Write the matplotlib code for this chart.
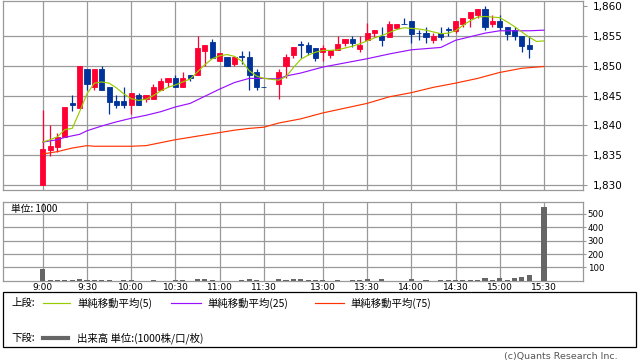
import matplotlib
matplotlib.use("Agg")
import matplotlib.pyplot as plt
from matplotlib.lines import Line2D
from matplotlib.patches import Rectangle


def slots(start, end):
    """5-minute time labels from start to end, both included."""
    h0, m0 = map(int, start.split(":"))
    h1, m1 = map(int, end.split(":"))
    return [f"{t // 60}:{t % 60:02d}" for t in range(h0 * 60 + m0, h1 * 60 + m1 + 1, 5)]


# candles: morning 9:00-11:30, afternoon 12:30-15:20
candle_times = slots("9:00", "11:30") + slots("12:30", "15:20")
opens = [1830.0, 1835.9, 1836.4, 1838.0, 1843.7, 1843.0, 1849.5, 1846.4, 1849.5, 1846.4,
         1844.1, 1844.1, 1843.5, 1845.1, 1844.5, 1844.5, 1845.9, 1847.3, 1848.0, 1846.5,
         1848.5, 1848.5, 1852.5, 1854.0, 1850.9, 1851.5, 1850.4, 1851.6, 1851.5, 1849.0,
         1846.4,
         1846.9, 1849.9, 1851.8, 1853.6, 1853.5, 1853.0, 1852.4, 1851.8, 1852.6, 1853.9,
         1854.5, 1852.9, 1854.4, 1855.5, 1855.0, 1854.9, 1856.4, 1857.1, 1857.6, 1855.6,
         1855.5, 1854.4, 1855.5, 1856.2, 1855.9, 1857.1, 1858.1, 1858.6, 1859.6, 1857.1,
         1857.6, 1856.6, 1856.1, 1855.0, 1853.5]
highs = [1842.6, 1840.1, 1838.7, 1843.1, 1845.1, 1850.0, 1849.5, 1849.5, 1850.0, 1846.4,
         1845.1, 1846.4, 1845.5, 1845.4, 1845.1, 1847.0, 1848.0, 1848.0, 1848.5, 1849.0,
         1848.5, 1855.1, 1853.5, 1854.5, 1852.1, 1851.5, 1851.5, 1852.5, 1852.5, 1849.5,
         1846.4,
         1849.5, 1852.0, 1853.1, 1854.1, 1854.0, 1853.0, 1853.5, 1852.6, 1855.0, 1854.5,
         1855.0, 1855.0, 1857.2, 1856.1, 1856.6, 1857.6, 1857.1, 1858.1, 1857.6, 1856.0,
         1856.6, 1855.5, 1856.6, 1856.6, 1857.6, 1858.1, 1859.1, 1859.6, 1860.1, 1858.6,
         1858.6, 1856.6, 1856.6, 1855.0, 1855.0]
lows = [1830.0, 1834.9, 1835.5, 1838.0, 1842.5, 1843.0, 1845.9, 1845.9, 1845.9, 1842.0,
        1843.0, 1843.0, 1842.0, 1843.5, 1844.0, 1844.5, 1845.9, 1846.4, 1846.5, 1846.5,
        1847.5, 1848.5, 1849.9, 1851.4, 1850.9, 1849.9, 1849.9, 1850.4, 1845.9, 1845.9,
        1846.4,
        1844.5, 1847.9, 1851.4, 1851.3, 1851.9, 1850.9, 1850.9, 1851.4, 1852.6, 1853.4,
        1853.2, 1852.4, 1854.4, 1854.9, 1853.4, 1854.9, 1856.4, 1857.0, 1853.9, 1854.4,
        1853.9, 1853.9, 1854.4, 1855.0, 1855.5, 1856.6, 1856.6, 1858.1, 1856.1, 1856.6,
        1856.1, 1854.4, 1854.4, 1852.4, 1851.4]
closes = [1836.1, 1836.6, 1838.1, 1843.1, 1843.5, 1850.0, 1846.9, 1849.5, 1845.9, 1844.0,
          1843.5, 1843.5, 1845.5, 1843.5, 1845.1, 1846.4, 1847.5, 1848.0, 1846.5, 1848.0,
          1847.9, 1853.0, 1853.5, 1851.4, 1852.1, 1849.9, 1851.5, 1851.5, 1848.4, 1846.4,
          1846.4,
          1849.0, 1851.5, 1853.1, 1853.5, 1852.4, 1851.4, 1853.0, 1852.6, 1853.6, 1854.5,
          1853.9, 1853.5, 1855.5, 1856.1, 1854.4, 1857.1, 1857.1, 1857.0, 1855.4, 1855.5,
          1854.9, 1855.0, 1854.9, 1856.1, 1857.6, 1858.1, 1859.1, 1859.6, 1856.6, 1857.6,
          1856.6, 1855.4, 1855.0, 1853.4, 1852.9]

# volume (unit 1000) and 5-period MA, incl. closing auction
vol_times = candle_times + ["15:25", "15:30"]
volumes = [87, 8, 8, 8, 8, 15, 8, 8, 8, 8, 1, 8, 8, 1, 1, 8, 1, 1, 8, 8,
           1, 15, 15, 8, 1, 1, 1, 8, 15, 8, 1,
           15, 8, 15, 10, 8, 8, 8, 1, 8, 1, 8, 8, 15, 1, 15, 1, 1, 1, 13,
           1, 8, 1, 8, 8, 8, 8, 8, 8, 22, 8, 17, 8, 20, 25, 43,
           0, 550]

ma5_times = vol_times
ma5 = [1837.2, 1837.6, 1838.1, 1839.3, 1839.5, 1842.3, 1845.3, 1847.1, 1847.3, 1847.1,
       1846.3, 1845.3, 1844.5, 1844.2, 1844.4, 1845.0, 1845.8, 1846.4, 1846.8, 1847.3,
       1847.8, 1849.0, 1850.2, 1851.2, 1851.7, 1851.9, 1851.6, 1850.8, 1849.2, 1848.3,
       1847.9,
       1847.6, 1848.2, 1849.7, 1851.1, 1851.8, 1852.3, 1852.6, 1852.6, 1852.7, 1853.0,
       1853.3, 1853.7, 1854.2, 1854.7, 1855.1, 1855.6, 1856.1, 1856.4, 1856.3, 1856.2,
       1856.0, 1855.7, 1855.4, 1855.5, 1855.9, 1856.8, 1857.6, 1858.2, 1858.3, 1858.2,
       1858.1, 1857.4, 1856.6, 1855.7, 1854.8, 1854.1, 1854.2]

ma25_times = ["9:00", "9:10", "9:15", "9:25", "9:30", "9:40", "9:50", "10:00", "10:10",
              "10:20", "10:30", "10:40", "10:50", "11:00", "11:10", "11:20", "11:30",
              "12:30", "12:35", "12:45", "13:00", "13:15", "13:30", "13:45", "14:00",
              "14:10", "14:20", "14:30", "14:40", "14:50", "15:00", "15:20", "15:30"]
ma25 = [1837.2, 1837.6, 1838.0, 1838.5, 1839.1, 1839.9, 1840.6, 1841.2, 1841.7,
        1842.3, 1843.1, 1843.7, 1844.9, 1846.1, 1847.2, 1847.9, 1847.9,
        1847.8, 1848.3, 1848.8, 1849.8, 1850.5, 1851.2, 1852.0, 1852.7,
        1852.9, 1853.1, 1854.3, 1854.9, 1855.5, 1855.9, 1855.9, 1856.0]

ma75_times = ["9:00", "9:10", "9:20", "9:25", "9:30", "9:35", "10:00", "10:10", "10:20",
              "10:30", "10:40", "10:50", "11:00", "11:10", "11:20", "11:30", "12:30",
              "12:45", "13:00", "13:15", "13:30", "13:45", "14:00", "14:15", "14:30",
              "14:45", "15:00", "15:15", "15:30"]
ma75 = [1835.2, 1835.6, 1836.2, 1836.4, 1836.6, 1836.5, 1836.5, 1836.6, 1837.1,
        1837.6, 1838.0, 1838.4, 1838.8, 1839.2, 1839.5, 1839.7, 1840.4,
        1841.1, 1842.1, 1842.9, 1843.7, 1844.8, 1845.5, 1846.4, 1847.1,
        1847.9, 1848.9, 1849.6, 1849.9]

tick_labels = ["9:00", "9:30", "10:00", "10:30", "11:00", "11:30",
               "13:00", "13:30", "14:00", "14:30", "15:00", "15:30"]
price_ticks = [1830, 1835, 1840, 1845, 1850, 1855, 1860]
vol_ticks = [100, 200, 300, 400, 500]

RED = "#ff0033"
BLUE = "#003399"
GRID = "#999999"
JP = ["Noto Sans CJK JP", "DejaVu Sans"]


def xpos(t):
    # morning slots 0..30, one empty slot over the lunch break, afternoon from 32
    h, m = map(int, t.split(":"))
    mins = h * 60 + m
    if mins <= 11 * 60 + 30:
        return (mins - 540) / 5
    return (mins - 750) / 5 + 32


W, H = 638, 362
fig = plt.figure(figsize=(W / 100, H / 100), dpi=100)
left, right = 3.3, 582.7
ax = fig.add_axes([left / W, 1 - 190.3 / H, (right - left) / W, 189.3 / H])
axv = fig.add_axes([left / W, 1 - 280.7 / H, (right - left) / W, 79.0 / H])

# price panel
for t, o, hi, lo, c in zip(candle_times, opens, highs, lows, closes):
    x = xpos(t)
    col = RED if c > o else BLUE
    ax.vlines(x, lo, hi, color=col, lw=0.9, zorder=2)
    ax.bar(x, abs(c - o), bottom=min(o, c), width=0.7, color=col,
           edgecolor=col, lw=0.6, zorder=3)

ax.plot([xpos(t) for t in ma75_times], ma75, color="#ff3300", lw=0.85, zorder=4)
ax.plot([xpos(t) for t in ma25_times], ma25, color="#9911ff", lw=0.85, zorder=4)
ax.plot([xpos(t) for t in ma5_times], ma5, color="#99cc00", lw=0.85, zorder=5)

tick_pos = [xpos(t) for t in tick_labels]
xlim = (-5.35, 73.25)

ax.set_xlim(*xlim)
ax.set_ylim(1829.1, 1860.9)
ax.set_xticks(tick_pos)
ax.set_xticklabels([])
ax.set_yticks(price_ticks)
ax.set_yticklabels([f"{v:,}" for v in price_ticks])
ax.yaxis.tick_right()
ax.tick_params(axis="x", length=0)
ax.tick_params(axis="y", length=3, width=0.8, color=GRID, pad=4, labelsize=7.5)
ax.grid(True, color=GRID, lw=0.9)
ax.get_ygridlines()[-1].set_visible(False)
ax.set_axisbelow(True)

# volume panel
axv.bar([xpos(t) for t in vol_times], volumes, width=0.7, color="#666666", zorder=3)
axv.set_xlim(*xlim)
axv.set_ylim(0, 592)
axv.set_xticks(tick_pos)
axv.set_xticklabels(tick_labels)
axv.set_yticks(vol_ticks)
axv.yaxis.tick_right()
axv.tick_params(axis="x", length=0, pad=1.5, labelsize=6.5)
axv.tick_params(axis="y", length=2.5, width=0.8, color=GRID, pad=1, labelsize=6.2)
axv.grid(True, color=GRID, lw=0.9)
axv.set_axisbelow(True)
axv.text(0.014, 0.965, "単位: 1000", transform=axv.transAxes, ha="left", va="top",
         fontsize=7, family=JP)

for a in (ax, axv):
    for s in a.spines.values():
        s.set_color(GRID)
        s.set_linewidth(0.9)


# legend box
def fx(px):
    return px / W


def fy(py):
    return 1 - py / H


fig.patches.append(Rectangle((fx(3), fy(347)), fx(636) - fx(3), fy(292) - fy(347),
                             transform=fig.transFigure, fill=False,
                             edgecolor="black", lw=0.9))

row1, row2 = 303, 338
fig.text(fx(11), fy(row1), "上段:", fontsize=7.5, family=JP, va="center")
legend_items = [
    (43, 70, 77, "#99cc00", "単純移動平均(5)"),
    (171, 201, 207, "#9911ff", "単純移動平均(25)"),
    (315, 344, 350, "#ff3300", "単純移動平均(75)"),
]
for x0, x1, xt, col, label in legend_items:
    fig.lines.append(Line2D([fx(x0), fx(x1)], [fy(row1), fy(row1)],
                            transform=fig.transFigure, color=col, lw=0.85))
    fig.text(fx(xt), fy(row1), label, fontsize=7.5, family=JP, va="center")

fig.text(fx(11), fy(row2), "下段:", fontsize=7.5, family=JP, va="center")
fig.lines.append(Line2D([fx(43), fx(68)], [fy(row2), fy(row2)],
                        transform=fig.transFigure, color="#666666", lw=3.0))
fig.text(fx(77), fy(row2), "出来高 単位:(1000株/口/枚)", fontsize=7.5, family=JP,
         va="center")

fig.text(fx(618), fy(356), "(c)Quants Research Inc.", fontsize=6.8,
         color="#555555", ha="right", va="center")

fig.savefig("out.png", dpi=100)
